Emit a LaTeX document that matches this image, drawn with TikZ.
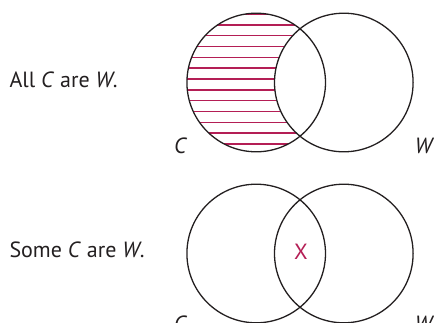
\documentclass[tikz,border=0pt]{standalone}
\usepackage{fontspec}
\setmainfont{PT Sans}
\definecolor{hatch}{RGB}{180,30,85}
\definecolor{ink}{RGB}{35,31,32}
\begin{document}
\begin{tikzpicture}[x=1pt,y=-1pt,
  venn/.style={circle,draw=ink,line width=1.3pt,minimum size=138.6pt,inner sep=0pt},
  txt/.style={font=\fontsize{22}{26}\selectfont,inner sep=0pt,anchor=base west,text=ink},
  setlbl/.style={font=\fontsize{22}{26}\selectfont\itshape,inner sep=0pt,anchor=base,text=ink},
  hatchline/.style={draw=hatch,line width=1.4pt}]
\useasboundingbox (0,0) rectangle (434,322);
% hatching of C minus W
\begin{scope}
  \clip (256.2,82.5) circle (69.3);
  \foreach \k in {-6,...,6}
    \draw[hatchline] (180,79+10.83*\k) -- (330,79+10.83*\k);
  \fill[white] (343.8,82.5) circle (69.3);
\end{scope}
% top diagram
\node[venn] (c1) at (256.2,82.5) {};
\node[venn] (w1) at (343.8,82.5) {};
\node[txt] (t1) at (9.3,87.7) {All \textit{C} are \textit{W}.};
\node[setlbl] (lc1) at (180,153) {C};
\node[setlbl] (lw1) at (423.5,153) {W};
% bottom diagram
\node[venn] (c2) at (256.2,253.5) {};
\node[venn] (w2) at (343.8,253.5) {};
\node[txt] (t2) at (9.3,257.7) {Some \textit{C} are \textit{W}.};
\node[font=\fontsize{22}{26}\selectfont,inner sep=0pt,anchor=base,text=hatch] (x) at (301,259) {X};
\node[setlbl] (lc2) at (180,331) {C};
\node[setlbl] (lw2) at (423.5,331) {W};
\end{tikzpicture}
\end{document}
